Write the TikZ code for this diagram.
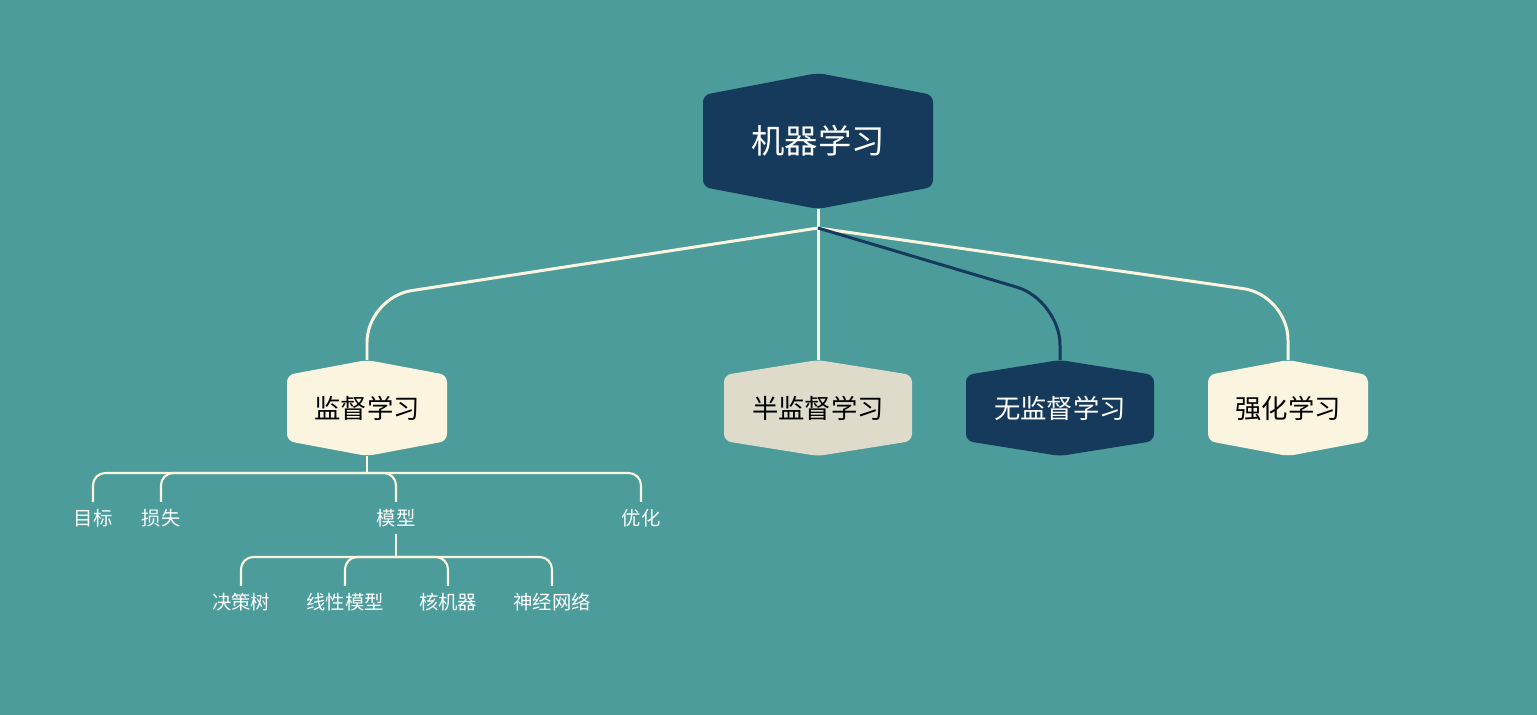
\documentclass[tikz,border=0pt]{standalone}
\usepackage{fontspec}
\setmainfont{Noto Sans CJK SC}
\usepackage{xcolor}
\definecolor{bgteal}{HTML}{4C9C9C}
\definecolor{navy}{HTML}{163A5C}
\definecolor{cream}{HTML}{FBF5E0}
\definecolor{sand}{HTML}{DEDBCB}
\usetikzlibrary{positioning, calc}
% hexagon behind a node: center, half width, tip, side, colour
\newcommand{\hexat}[5]{%
  \fill[#5, rounded corners=4pt] ($(#1)+(0,#3)$) -- ($(#1)+(#2,#4)$) -- ($(#1)+(#2,-#4)$)
    -- ($(#1)+(0,-#3)$) -- ($(#1)+(-#2,-#4)$) -- ($(#1)+(-#2,#4)$) -- cycle;}

\begin{document}
\begin{tikzpicture}[
    main/.style={line width=1.7pt, draw=cream, rounded corners=0.9cm},
    sub/.style={line width=1.2pt, draw=cream, rounded corners=7pt},
    leaf/.style={text=white, font=\fontsize{11}{13}\selectfont, inner sep=1pt},
    topic/.style={font=\fontsize{15}{18}\selectfont}
]
    \fill[bgteal] (0,0) rectangle (30.74,-14.3);
    \useasboundingbox (0,0) rectangle (30.74,-14.3);

    % root and first level
    \coordinate (rc) at (16.36,-2.82);
    \coordinate (c1) at (7.34,-8.16);
    \coordinate (c2) at (16.36,-8.16);
    \coordinate (c3) at (21.2,-8.16);
    \coordinate (c4) at (25.76,-8.16);
    \hexat{rc}{2.3}{1.36}{0.92}{navy}
    \hexat{c1}{1.6}{0.96}{0.66}{cream}
    \hexat{c2}{1.88}{0.96}{0.66}{sand}
    \hexat{c3}{1.88}{0.96}{0.66}{navy}
    \hexat{c4}{1.6}{0.96}{0.66}{cream}
    \node[text=white, font=\fontsize{19}{22}\selectfont] (root) at (rc) {机器学习};
    \node[topic] (sup) at (c1) {监督学习};
    \node[topic] (semi) at (c2) {半监督学习};
    \node[topic, text=white] (unsup) at (c3) {无监督学习};
    \node[topic] (rl) at (c4) {强化学习};

    % connectors
    \coordinate (rb) at (16.36,-4.18);
    \coordinate (hub) at (16.36,-4.56);
    \draw[main] (rb) -- (hub);
    \draw[main] (hub) -- (7.34,-5.95) -- ($(c1)+(0,0.96)$);
    \draw[main] (hub) -- ($(c2)+(0,0.96)$);
    \draw[main] (hub) -- (25.76,-5.9) -- ($(c4)+(0,0.96)$);
    \draw[main, draw=navy] (hub) -- (21.2,-6.0) -- ($(c3)+(0,0.96)$);

    % second level
    \node[leaf] (goal) at (1.86,-10.36) {目标};
    \node[leaf] (loss) at (3.22,-10.36) {损失};
    \node[leaf] (model) at (7.92,-10.36) {模型};
    \node[leaf] (opt) at (12.82,-10.36) {优化};
    \coordinate (s1) at (7.34,-9.46);
    \draw[sub] ($(c1)+(0,-0.96)$) -- (s1);
    \foreach \n in {goal, loss}
        \draw[sub] (\n.north) ++(0,0.1) |- (s1);
    \foreach \n in {model, opt}
        \draw[sub] (\n.north) ++(0,0.1) |- (s1);

    % third level
    \node[leaf] (tree) at (4.82,-12.04) {决策树};
    \node[leaf] (lin) at (6.9,-12.04) {线性模型};
    \node[leaf] (kern) at (8.96,-12.04) {核机器};
    \node[leaf] (nn) at (11.04,-12.04) {神经网络};
    \coordinate (s2) at (7.92,-11.14);
    \draw[sub] (model.south) ++(0,-0.1) -- (s2);
    \foreach \n in {tree, lin, kern, nn}
        \draw[sub] (\n.north) ++(0,0.1) |- (s2);
\end{tikzpicture}
\end{document}
